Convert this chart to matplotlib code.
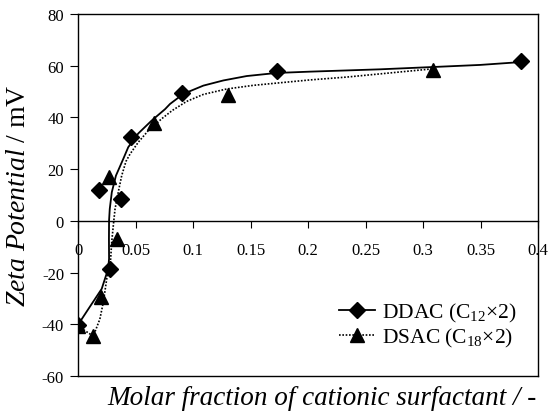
import matplotlib
matplotlib.use("Agg")
import matplotlib.pyplot as plt

plt.rcParams['font.family'] = ['Liberation Serif', 'DejaVu Serif']
plt.rcParams['mathtext.fontset'] = 'custom'
plt.rcParams['mathtext.rm'] = 'Liberation Serif'
plt.rcParams['mathtext.it'] = 'Liberation Serif:italic'
plt.rcParams['axes.unicode_minus'] = False

# measured points
ddac_x = [0.0, 0.0185, 0.0278, 0.037, 0.0458, 0.0904, 0.1728, 0.385]
ddac_y = [-40.2, 12.1, -18.6, 8.5, 32.6, 49.4, 57.8, 61.8]
dsac_x = [0.0, 0.0133, 0.0197, 0.027, 0.0336, 0.0664, 0.13, 0.309]
dsac_y = [-40.7, -44.6, -29.5, 17.0, -7.2, 37.8, 48.5, 58.5]

# trend curves
ddac_fit_x = [0.0, 0.009, 0.0206, 0.0262, 0.0270, 0.0269, 0.0270, 0.0276, 0.0294,
              0.0330, 0.0394, 0.0437, 0.0524, 0.0641, 0.0757, 0.0800, 0.0916, 0.109,
              0.1264, 0.1467, 0.1728, 0.2017, 0.2626, 0.309, 0.3496, 0.385]
ddac_fit_y = [-40.2, -34.1, -26.3, -18.6, -14.7, -7.0, 0.1, 4.6, 11.1,
              17.5, 24.0, 28.5, 33.8, 38.8, 43.2, 45.2, 49.1, 52.3,
              54.3, 56.0, 57.2, 57.7, 58.6, 59.5, 60.3, 61.4]
dsac_fit_x = [0.0, 0.0133, 0.019, 0.022, 0.025, 0.0284, 0.0293, 0.0307, 0.0322, 0.035,
              0.038, 0.0417, 0.0452, 0.0524, 0.0611, 0.0728, 0.082, 0.0945, 0.109,
              0.1293, 0.1524, 0.1757, 0.2017, 0.2336, 0.297, 0.309]
dsac_fit_y = [-40.7, -44.6, -38.0, -31.5, -22.4, -14.7, -8.2, -1.8, 4.6, 11.1,
              17.5, 23.0, 25.8, 30.4, 34.9, 39.5, 42.7, 46.2, 48.9,
              51.0, 52.4, 53.4, 54.5, 55.6, 58.3, 58.8]

xticks = [0, 0.05, 0.1, 0.15, 0.2, 0.25, 0.3, 0.35, 0.4]
xticklabels = ['0', '0.05', '0.1', '0.15', '0.2', '0.25', '0.3', '0.35', '0.4']
yticks = [-60, -40, -20, 0, 20, 40, 60, 80]

fig = plt.figure(figsize=(5.58, 4.14), dpi=100)
ax = fig.add_axes([0.1398, 0.0894, 0.8244, 0.8744])

ax.plot(ddac_fit_x, ddac_fit_y, color='k', lw=1.3, ls='-', solid_joinstyle='round')
ax.plot(dsac_fit_x, dsac_fit_y, color='k', lw=1.2, ls=(0, (1, 1)))
ax.plot(ddac_x, ddac_y, ls='none', marker='D', ms=8, color='k')
ax.plot(dsac_x, dsac_y, ls='none', marker='^', ms=10, color='k')

# legend handles
h1, = ax.plot([], [], color='k', lw=1.3, marker='D', ms=8, label='DDAC (C$_{12}$×2)')
h2, = ax.plot([], [], color='k', lw=1.2, ls=(0, (1, 1)), marker='^', ms=10,
              label='DSAC (C$_{18}$×2)')
ax.legend(handles=[h1, h2], loc='lower right', frameon=False, fontsize=15.5,
          handlelength=1.7, handletextpad=0.3, borderaxespad=0.6,
          labelspacing=0.1, bbox_to_anchor=(1.0, 0.014))

ax.set_xlim(0, 0.4)
ax.set_ylim(-60, 80)
ax.set_xticks(xticks)
ax.set_xticklabels(xticklabels)
ax.set_yticks(yticks)

ax.spines['bottom'].set_position(('data', 0))
ax.axhline(-60, color='k', lw=1.0, clip_on=False)
for s in ax.spines.values():
    s.set_linewidth(1.0)

ax.tick_params(axis='x', direction='out', length=5, pad=10, labelsize=12)
ax.tick_params(axis='y', direction='out', length=6, pad=4, labelsize=12)

ax.set_ylabel('$\\mathit{Zeta\\ Potential}$ / mV', fontsize=20, labelpad=8)
fig.text(0.577, 0.038, 'Molar fraction of cationic surfactant / -', style='italic',
         fontsize=19.5, ha='center', va='center')

fig.savefig('out.png', dpi=100)
